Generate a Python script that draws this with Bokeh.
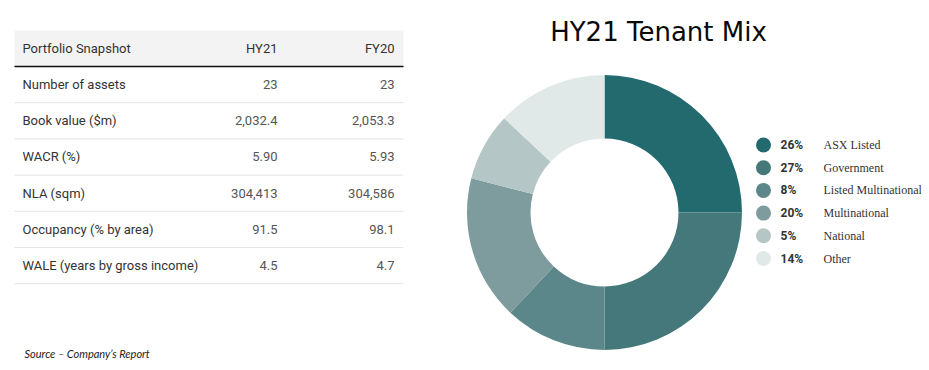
import math
from bokeh.plotting import figure
from bokeh.models import Range1d, ColumnDataSource
from bokeh.core.properties import value
from bokeh.embed import file_html
from bokeh.resources import INLINE

# ---------------- data ----------------
header = ["Portfolio Snapshot", "HY21", "FY20"]
metrics = ["Number of assets", "Book value ($m)", "WACR (%)", "NLA (sqm)",
           "Occupancy (% by area)", "WALE (years by gross income)"]
hy21 = ["23", "2,032.4", "5.90", "304,413", "91.5", "4.5"]
fy20 = ["23", "2,053.3", "5.93", "304,586", "98.1", "4.7"]

tenants = ["ASX Listed", "Government", "Listed Multinational", "Multinational", "National", "Other"]
tenant_pct = [26, 27, 8, 20, 5, 14]          # legend labels
slice_share = [25, 25, 12, 17, 8, 13]        # slice sizes as drawn
colors = ["#226a6e", "#44787b", "#5b868a", "#7e9c9e", "#b5c6c7", "#e1e8e8"]

title = "HY21 Tenant Mix"
source_note = "Source \u2013 Company\u2019s Report"

# ---------------- layout helpers ----------------
W, H = 921, 362
def px(x):  # page x -> data x
    return x
def py(y):  # page y -> data y
    return H - y

p = figure(width=W, height=H, x_range=Range1d(0, W), y_range=Range1d(0, H),
           output_backend="svg", toolbar_location=None, min_border=0,
           background_fill_color="white", border_fill_color="white")
p.axis.visible = False
p.grid.visible = False
p.outline_line_color = None

# ---------------- table ----------------
SANS = value("Roboto")
p.quad(left=px(14), right=px(403), top=py(30), bottom=py(66), fill_color="#f3f3f3", line_color=None)
p.segment(x0=px(14), x1=px(403), y0=py(66), y1=py(66), line_color="#111111", line_width=1.5)
row_h = 36.2
line_ys = [py(66 + row_h * (i + 1)) for i in range(len(metrics))]
p.segment(x0=[px(14)] * len(line_ys), x1=[px(403)] * len(line_ys), y0=line_ys, y1=line_ys,
          line_color="#e4e4e4", line_width=1)

hy = py(48)
p.text(x=[px(22)], y=[hy], text=[header[0]], text_font=SANS, text_font_size="13px",
       text_color="#333333", text_baseline="middle", text_align="left")
p.text(x=[px(277), px(394)], y=[hy, hy], text=header[1:], text_font=SANS, text_font_size="13px",
       text_color="#333333", text_baseline="middle", text_align="right")

row_y = [py(84 + row_h * i) for i in range(len(metrics))]
p.text(x=[px(22)] * len(metrics), y=row_y, text=metrics, text_font=SANS, text_font_size="13px",
       text_color="#333333", text_baseline="middle", text_align="left")
p.text(x=[px(277)] * len(metrics), y=row_y, text=hy21, text_font=SANS, text_font_size="13px",
       text_color="#555555", text_baseline="middle", text_align="right")
p.text(x=[px(394)] * len(metrics), y=row_y, text=fy20, text_font=SANS, text_font_size="13px",
       text_color="#555555", text_baseline="middle", text_align="right")

p.text(x=[px(24)], y=[py(353)], text=[source_note], text_font=value("Lato"), text_font_size="11px",
       text_font_style="italic", text_color="#222222", text_baseline="middle", text_align="left")

# ---------------- donut ----------------
total = sum(slice_share)
cum = [0]
for s in slice_share:
    cum.append(cum[-1] + s)
start = [math.pi / 2 - 2 * math.pi * cum[i] / total for i in range(len(slice_share))]
end = [math.pi / 2 - 2 * math.pi * cum[i + 1] / total for i in range(len(slice_share))]
src = ColumnDataSource(dict(start=start, end=end, color=colors))
cx, cy = px(604), py(212)
p.annular_wedge(x=cx, y=cy, inner_radius=74, outer_radius=137.5, start_angle="start", end_angle="end",
                direction="clock", fill_color="color", line_color=None, source=src)

p.text(x=[px(658)], y=[py(31)], text=[title], text_font=value("DejaVu Sans"), text_font_size="26px",
       text_color="#0a0a0a", text_baseline="middle", text_align="center")

# ---------------- legend ----------------
ly = [py(144.5 + 22.7 * i) for i in range(len(tenants))]
p.scatter(x=[px(763)] * len(tenants), y=ly, size=15, fill_color=colors, line_color=None)
p.text(x=[px(780)] * len(tenants), y=ly, text=[f"{v}%" for v in tenant_pct], text_font=SANS,
       text_font_size="12px", text_font_style="bold", text_color="#333333",
       text_baseline="middle", text_align="left")
p.text(x=[px(823)] * len(tenants), y=ly, text=tenants, text_font=value("Liberation Serif"),
       text_font_size="12px", text_color="#333333", text_baseline="middle", text_align="left")

open("out.html", "w").write(file_html(p, INLINE))
